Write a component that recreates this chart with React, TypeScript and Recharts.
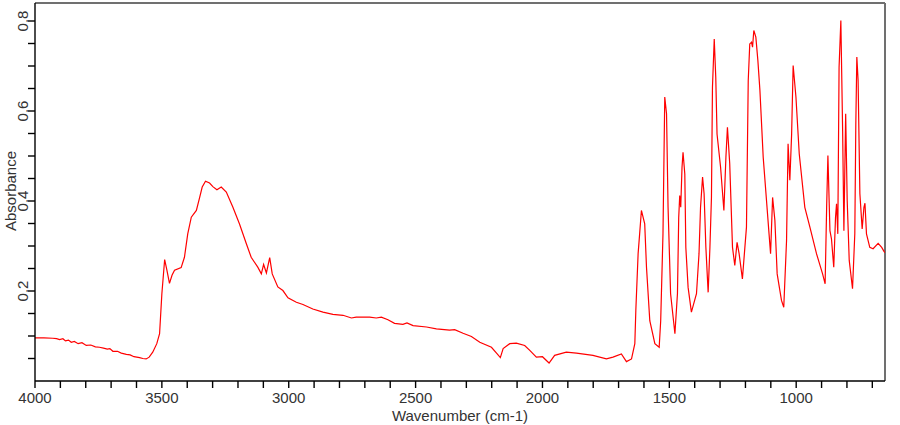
import { LineChart, Line, XAxis, YAxis, ReferenceLine } from "recharts"

// IR spectrum
const wavenumbers = [
  4000, 3965, 3930, 3915, 3903, 3890, 3880, 3868, 3857, 3845, 3830, 3815, 3798, 3780, 3762, 3746, 3730, 3715, 3705, 3693,
  3675, 3660, 3640, 3625, 3610, 3588, 3575, 3562, 3550, 3536, 3520, 3509, 3500, 3489, 3480, 3470, 3460, 3450, 3424, 3411,
  3398, 3384, 3364, 3351, 3341, 3328, 3312, 3299, 3283, 3266, 3246, 3220, 3194, 3167, 3148, 3122, 3108, 3099, 3088, 3075,
  3065, 3043, 3023, 3003, 2970, 2944, 2905, 2865, 2826, 2786, 2753, 2734, 2681, 2655, 2635, 2609, 2583, 2550, 2534, 2510,
  2457, 2418, 2366, 2346, 2313, 2280, 2247, 2201, 2181, 2166, 2155, 2129, 2103, 2070, 2050, 2024, 2000, 1974, 1952, 1906,
  1866, 1801, 1748, 1722, 1689, 1669, 1649, 1636, 1632, 1623, 1617, 1610, 1597, 1590, 1577, 1557, 1540, 1534, 1525, 1518,
  1511, 1505, 1495, 1478, 1468, 1463, 1459, 1455, 1450, 1446, 1439, 1435, 1426, 1413, 1393, 1383, 1377, 1369, 1363, 1356,
  1347, 1340, 1334, 1330, 1323, 1317, 1312, 1298, 1285, 1277, 1271, 1262, 1251, 1242, 1233, 1225, 1212, 1196, 1189, 1183,
  1176, 1172, 1167, 1159, 1151, 1143, 1130, 1117, 1107, 1101, 1093, 1084, 1075, 1058, 1049, 1038, 1032, 1025, 1018, 1012,
  1001, 988, 966, 946, 920, 896, 886, 880, 875, 867, 861, 852, 845, 841, 836, 831, 824, 817, 812, 805,
  799, 791, 778, 769, 765, 761, 756, 749, 740, 733, 729, 723, 710, 697, 677, 663, 654, 650,
]

const absorbance = [
  0.096, 0.096, 0.095, 0.094, 0.092, 0.094, 0.089, 0.091, 0.086, 0.088, 0.083, 0.085, 0.079, 0.08, 0.076, 0.075, 0.073, 0.071, 0.072, 0.066,
  0.066, 0.062, 0.059, 0.058, 0.054, 0.052, 0.05, 0.049, 0.053, 0.064, 0.083, 0.105, 0.194, 0.27, 0.246, 0.217, 0.235, 0.246, 0.252, 0.275,
  0.327, 0.364, 0.379, 0.408, 0.431, 0.444, 0.44, 0.432, 0.425, 0.431, 0.42, 0.386, 0.349, 0.305, 0.275, 0.253, 0.238, 0.259, 0.24, 0.274,
  0.238, 0.209, 0.201, 0.185, 0.175, 0.17, 0.16, 0.153, 0.148, 0.146, 0.14, 0.142, 0.142, 0.14, 0.142, 0.136, 0.128, 0.126, 0.129, 0.123,
  0.12, 0.116, 0.113, 0.114, 0.106, 0.099, 0.086, 0.075, 0.062, 0.052, 0.072, 0.083, 0.084, 0.079, 0.068, 0.053, 0.054, 0.04, 0.057, 0.064,
  0.062, 0.057, 0.049, 0.053, 0.06, 0.043, 0.049, 0.083, 0.157, 0.283, 0.327, 0.379, 0.349, 0.253, 0.134, 0.083, 0.075, 0.134, 0.327, 0.631,
  0.594, 0.386, 0.194, 0.105, 0.194, 0.364, 0.412, 0.386, 0.475, 0.508, 0.46, 0.297, 0.208, 0.153, 0.194, 0.283, 0.386, 0.453, 0.416, 0.297,
  0.197, 0.297, 0.408, 0.653, 0.76, 0.675, 0.549, 0.475, 0.379, 0.497, 0.564, 0.483, 0.297, 0.257, 0.308, 0.283, 0.227, 0.342, 0.668, 0.749,
  0.753, 0.742, 0.779, 0.764, 0.712, 0.646, 0.497, 0.401, 0.327, 0.283, 0.408, 0.357, 0.238, 0.179, 0.164, 0.312, 0.527, 0.446, 0.549, 0.701,
  0.631, 0.505, 0.386, 0.342, 0.283, 0.238, 0.216, 0.386, 0.501, 0.334, 0.316, 0.253, 0.364, 0.394, 0.327, 0.697, 0.801, 0.557, 0.334, 0.594,
  0.401, 0.268, 0.205, 0.327, 0.572, 0.72, 0.668, 0.416, 0.338, 0.386, 0.395, 0.327, 0.297, 0.294, 0.306, 0.297, 0.288, 0.285,
]

const xTicks = [4000, 3900, 3800, 3700, 3600, 3500, 3400, 3300, 3200, 3100, 3000, 2900, 2800, 2700, 2600, 2500, 2400, 2300, 2200, 2100,
  2000, 1900, 1800, 1700, 1600, 1500, 1400, 1300, 1200, 1100, 1000, 900, 800, 700]
const yTicks = [0.05, 0.1, 0.15, 0.2, 0.25, 0.3, 0.35, 0.4, 0.45, 0.5, 0.55, 0.6, 0.65, 0.7, 0.75, 0.8]
const yLabels = ["0.2", "0.4", "0.6", "0.8"]

const data = wavenumbers.map((w, i) => ({ w, a: absorbance[i] }))

const font = "'Liberation Sans', Arial, sans-serif"

function YTick({ x, y, payload }: any) {
  const label = payload.value.toFixed(1)
  const show = yLabels.includes(label) && Math.abs(payload.value * 10 - Math.round(payload.value * 10)) < 1e-6
  if (!show) return null
  return (
    <text x={x} y={y} transform={`rotate(-90 ${x} ${y})`} textAnchor="middle" fontSize={15} fill="#333" fontFamily={font}>
      {label}
    </text>
  )
}

export default function App() {
  return (
    <div style={{ position: "absolute", left: 0, top: 0, background: "#fff" }}>
      <LineChart width={900} height={425} data={data} margin={{ top: 3, right: 15, bottom: 0, left: 0 }}>
        <XAxis
          dataKey="w"
          type="number"
          domain={[650, 4000]}
          reversed
          allowDataOverflow
          ticks={xTicks}
          interval={0}
          tickFormatter={(v: number) => (v % 500 === 0 ? String(v) : "")}
          tickSize={7}
          tickMargin={4}
          height={44}
          stroke="#000"
          strokeWidth={1.4}
          tick={{ fontSize: 15, fill: "#333", fontFamily: font }}
          label={{
            content: ({ viewBox }: any) => (
              <text x={viewBox.x + viewBox.width / 2} y={viewBox.y + 40} textAnchor="middle" fontSize={15} fill="#333" fontFamily={font}>
                Wavenumber (cm-1)
              </text>
            ),
          }}
        />
        <YAxis
          type="number"
          domain={[0, 0.84]}
          allowDataOverflow
          ticks={yTicks}
          interval={0}
          width={35}
          tickSize={7}
          tickMargin={0}
          stroke="#000"
          strokeWidth={1.4}
          tick={<YTick />}
          label={{
            content: () => (
              <text x={16} y={191} transform="rotate(-90 16 191)" textAnchor="middle" fontSize={15} fill="#333" fontFamily={font}>
                Absorbance
              </text>
            ),
          }}
        />
        <ReferenceLine y={0.84} stroke="#707070" strokeWidth={2} ifOverflow="visible" />
        <ReferenceLine x={650} stroke="#707070" strokeWidth={2} ifOverflow="visible" />
        <Line type="linear" dataKey="a" stroke="#ff0000" strokeWidth={1.2} dot={false} isAnimationActive={false} />
      </LineChart>
    </div>
  )
}
